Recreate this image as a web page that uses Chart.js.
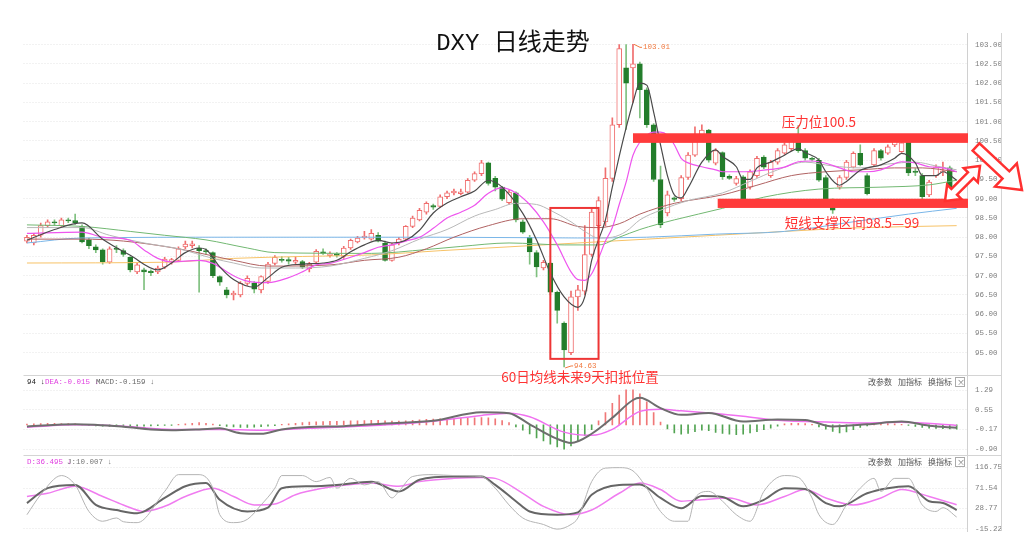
<!DOCTYPE html>
<html>
<head>
<meta charset="utf-8">
<title>DXY 日线走势</title>
<script src="https://cdn.jsdelivr.net/npm/chart.js@4.4.1/dist/chart.umd.min.js"></script>
<style>
  html, body { margin: 0; padding: 0; background: #fff; }
</style>
</head>
<body>
<canvas id="chart" width="1024" height="545"></canvas>
<script>
// daily candles (index 0 = leftmost bar)
const opens = [97.9,97.85,98.05,98.3,98.4,98.3,98.45,98.43,98.28,97.93,97.75,97.67,97.35,97.72,97.65,97.48,97.1,97.15,97.12,97.1,
  97.22,97.38,97.4,97.75,97.78,97.72,97.65,97.6,96.98,96.63,96.5,96.5,96.8,96.8,96.63,96.85,97.32,97.42,97.42,97.35,
  97.37,97.18,97.35,97.62,97.52,97.57,97.5,97.72,97.88,97.98,97.95,98.05,97.85,97.4,97.85,97.95,98.28,98.45,98.65,98.82,
  98.8,99.05,99.15,99.13,99.17,99.48,99.65,99.93,99.53,99.3,98.9,99.15,98.4,98.0,97.6,97.2,97.33,96.57,95.77,95.0,
  96.45,96.6,97.55,98.3,98.4,99.53,100.92,102.4,102.4,102.5,101.83,100.92,99.5,98.63,99.02,99.0,99.55,100.13,100.65,100.78,
  99.92,100.2,99.58,99.4,99.57,99.3,99.6,100.08,99.6,99.95,100.18,100.3,100.48,100.25,100.05,100.0,99.55,98.78,99.3,99.55,
  99.82,100.18,99.6,99.88,100.25,100.18,100.4,100.22,100.48,99.72,99.6,99.1,99.6,99.7,99.8,99.05];
const highs = [98.05,98.1,98.37,98.45,98.45,98.5,98.5,98.6,98.32,97.98,97.8,97.7,97.75,97.78,97.7,97.5,97.32,97.2,97.15,97.25,
  97.48,97.45,97.75,97.9,97.9,97.78,97.7,97.62,97.0,96.7,96.6,96.85,97.0,96.85,97.0,97.35,97.52,97.5,97.48,97.5,
  97.4,97.35,97.68,97.7,97.62,97.6,97.76,97.95,98.02,98.15,98.2,98.12,97.9,97.85,98.0,98.3,98.55,98.75,98.92,98.86,
  99.1,99.2,99.25,99.25,99.52,99.7,100.0,99.95,99.58,99.32,99.22,99.18,98.45,98.05,97.65,97.4,97.35,96.6,95.8,96.6,
  96.75,98.3,98.75,99.05,99.8,101.1,103.0,103.0,103.01,102.55,101.88,100.95,99.85,99.2,99.05,99.6,100.2,100.87,100.92,100.8,
  100.3,100.22,99.62,99.58,99.6,99.75,100.1,100.12,100.0,100.3,100.45,100.55,100.9,100.3,100.08,100.05,99.6,99.0,99.6,100.0,
  100.22,100.4,99.65,100.3,100.28,100.4,100.55,100.5,100.5,99.78,99.65,99.48,99.88,99.95,99.85,99.3];
const lows = [97.85,97.8,98.0,98.25,98.3,98.28,98.38,98.33,97.85,97.7,97.6,97.3,97.32,97.6,97.5,97.1,97.05,96.64,97.0,97.05,
  97.18,97.3,97.38,97.7,97.72,96.57,97.55,96.95,96.75,96.42,96.37,96.45,96.75,96.55,96.55,96.8,97.28,97.35,97.3,97.3,
  97.18,97.1,97.32,97.55,97.48,97.48,97.45,97.68,97.85,97.95,97.92,97.88,97.38,97.38,97.8,97.92,98.25,98.42,98.6,98.72,
  98.78,99.0,99.1,99.1,99.15,99.45,99.6,99.35,99.2,98.95,98.85,98.4,98.1,97.3,96.97,97.15,96.5,95.77,94.63,94.95,
  96.1,96.5,97.5,98.2,98.3,99.45,100.85,100.8,101.5,101.1,100.85,99.45,98.25,98.55,98.93,98.95,99.5,100.1,100.6,99.95,
  99.88,99.5,99.5,99.35,98.98,99.25,99.55,99.78,99.55,99.9,100.15,100.25,100.2,100.0,99.98,99.45,98.95,98.62,99.25,99.5,
  99.8,99.85,99.1,99.85,100.0,100.15,100.35,100.2,99.6,99.6,99.0,99.05,99.55,99.6,99.0,99.0];
const closes = [98.0,98.05,98.3,98.4,98.37,98.45,98.42,98.38,97.88,97.78,97.67,97.36,97.7,97.68,97.55,97.15,97.28,97.1,97.08,97.2,
  97.43,97.42,97.7,97.82,97.83,97.65,97.62,97.0,96.83,96.5,96.55,96.8,96.93,96.65,96.98,97.3,97.48,97.4,97.38,97.4,
  97.22,97.3,97.63,97.58,97.57,97.53,97.72,97.92,97.98,98.03,98.1,97.9,97.4,97.8,97.95,98.28,98.5,98.7,98.88,98.78,
  99.05,99.15,99.2,99.18,99.48,99.65,99.93,99.4,99.3,98.99,99.17,98.45,98.13,97.62,97.23,97.35,96.57,96.1,95.07,96.45,
  96.63,97.55,98.65,98.95,99.53,100.92,102.9,102.0,102.5,101.83,100.92,99.5,98.32,99.1,98.98,99.55,100.13,100.65,100.78,100.0,
  100.25,99.57,99.53,99.52,99.0,99.7,100.05,99.82,99.95,100.25,100.4,100.5,100.25,100.05,100.02,99.48,99.0,98.7,99.55,99.95,
  100.18,99.88,99.13,100.25,100.05,100.35,100.5,100.45,99.67,99.68,99.05,99.43,99.83,99.72,99.05,99.23];

// moving averages, [bar index, price] read at the visible turning points
const ma5 = [[0,97.92],[4,98.2],[8,98.37],[11,97.95],[15,97.53],[19,97.15],[21,97.33],[23,97.6],[25,97.72],[26,97.68],[28,97.23],
  [30,96.9],[33,96.7],[35,96.95],[37,97.22],[40,97.3],[43,97.33],[45,97.4],[47,97.62],[49,97.8],[51,97.92],[53,97.85],[55,97.92],
  [57,98.18],[59,98.63],[61,98.89],[63,99.05],[65,99.2],[67,99.48],[69,99.3],[72,98.62],[74,97.93],[76,97.07],[78,96.45],[80,96.18],
  [81,96.45],[82,97.4],[84,98.45],[85,99.3],[86,100.1],[87,100.84],[88,101.5],[89,102.0],[90,101.95],[91,101.25],[92,100.4],[93,99.6],
  [94,99.1],[95,99.02],[96,99.28],[98,99.95],[100,100.27],[101,100.1],[103,99.83],[104,99.5],[105,99.5],[106,99.8],[108,99.95],
  [110,100.13],[112,100.3],[113,100.2],[115,100.0],[116,99.7],[118,99.35],[119,99.45],[121,99.74],[122,99.8],[124,99.88],[126,100.05],
  [127,100.18],[129,99.93],[130,99.6],[132,99.6],[133,99.7],[135,99.48]];
const ma10 = [[0,98.1],[8,98.13],[11,98.0],[15,97.92],[17,97.67],[19,97.45],[21,97.36],[25,97.4],[27,97.32],[30,97.0],[32,96.86],
  [35,96.82],[38,96.95],[40,97.1],[42,97.28],[44,97.32],[47,97.48],[49,97.6],[51,97.74],[53,97.8],[55,97.9],[57,98.0],[59,98.23],
  [61,98.5],[63,98.65],[65,98.83],[67,99.14],[69,99.28],[71,99.15],[73,98.85],[75,98.4],[77,97.8],[79,97.1],[80,96.9],[81,96.88],
  [82,97.05],[83,97.45],[84,97.9],[85,98.25],[86,98.85],[87,99.43],[88,100.13],[89,100.47],[90,100.65],[91,100.73],[92,100.73],
  [93,100.65],[94,100.4],[95,100.05],[96,99.93],[98,99.83],[100,99.75],[101,99.7],[104,99.7],[106,99.72],[108,99.76],[110,99.82],
  [112,99.96],[114,99.98],[116,99.92],[118,99.8],[120,99.7],[122,99.7],[124,99.75],[125,99.82],[127,99.96],[129,99.93],[131,99.83],
  [133,99.8],[135,99.7]];
const ma30 = [[0,98.25],[8,98.25],[12,98.05],[17,97.85],[22,97.7],[27,97.45],[30,97.33],[34,97.2],[39,97.2],[44,97.25],[49,97.45],
  [53,97.65],[57,97.95],[61,98.2],[65,98.55],[68,98.72],[71,98.88],[74,98.85],[76,98.7],[79,98.4],[81,98.15],[83,97.98],[85,98.0],
  [87,98.15],[89,98.45],[92,98.7],[96,98.95],[101,99.15],[105,99.45],[109,99.75],[113,99.95],[117,99.85],[121,99.8],[125,99.9],
  [129,99.95],[132,99.85],[135,99.75]];
const ma40 = [[0,97.95],[8,97.95],[14,97.9],[22,97.7],[30,97.4],[35,97.25],[44,97.28],[49,97.4],[54,97.48],[58,97.7],[62,98.0],
  [67,98.3],[72,98.48],[76,98.48],[80,98.28],[83,98.25],[86,98.35],[89,98.6],[94,98.88],[101,99.1],[106,99.35],[111,99.6],
  [116,99.7],[121,99.75],[126,99.8],[130,99.8],[135,99.7]];
const ma60 = [[0,98.32],[8,98.28],[15,98.15],[20,98.05],[26,97.93],[32,97.72],[36,97.6],[50,97.58],[58,97.68],[63,97.76],[70,97.85],
  [78,97.8],[83,97.8],[86,98.0],[89,98.2],[94,98.45],[101,98.75],[107,99.04],[115,99.25],[124,99.3],[131,99.36],[135,99.48]];
const ma120 = [[0,97.85],[8,97.98],[30,98.0],[60,98.0],[80,97.98],[90,98.0],[100,98.08],[110,98.15],[120,98.4],[128,98.6],[135,98.75]];
const ma250 = [[0,97.33],[20,97.35],[30,97.45],[40,97.5],[50,97.54],[60,97.65],[70,97.75],[80,97.85],[90,97.95],[100,98.05],
  [110,98.15],[120,98.24],[135,98.3]];

// MACD panel
const macdHist = [0.03,0.04,0.05,0.06,0.06,0.05,0.05,0.04,0.02,
  -0.02,-0.04,-0.05,-0.06,-0.05,-0.06,-0.07,-0.06,-0.05,-0.04,-0.03,-0.02,-0.02,
  0.02,0.04,0.06,0.08,0.06,0.03,
  -0.03,-0.06,-0.08,-0.1,-0.1,-0.09,-0.07,-0.05,-0.03,
  0.02,0.04,0.06,0.08,0.1,0.11,0.12,0.13,0.13,0.14,0.15,0.15,0.16,0.17,
  0.17,0.15,0.14,0.14,0.15,0.17,0.19,0.2,0.21,0.22,0.22,0.23,0.24,0.25,0.26,0.27,0.26,0.22,0.16,0.08,
  -0.08,-0.2,-0.34,-0.48,-0.6,-0.72,-0.82,-0.9,-0.78,-0.6,-0.4,-0.18,
  0.15,0.45,0.8,1.1,1.3,1.3,1.15,0.85,
  0.45,0.1,-0.15,-0.3,
  -0.35,-0.32,-0.25,-0.2,-0.22,-0.28,-0.32,-0.35,-0.36,-0.35,-0.3,-0.25,-0.18,-0.12,-0.05,
  0.04,0.06,0.06,0.05,0.02,
  -0.08,-0.16,-0.24,-0.3,-0.26,-0.18,-0.1,
  -0.04,0.02,0.04,0.05,0.04,0.02,-0.02,
  -0.06,-0.1,-0.12,-0.13,-0.14,-0.15,-0.16];
const dif = [[0,-0.06],[7,0.02],[14,-0.07],[18,-0.17],[21,-0.2],[25,-0.17],[28,-0.13],[31,-0.31],[34,-0.33],[37,-0.17],[41,-0.08],
  [46,-0.05],[52,0.05],[59,0.15],[66,0.47],[70,0.43],[73,0.02],[77,-0.52],[79,-0.67],[82,-0.33],[85,0.26],[88,0.92],[89,1.0],
  [92,0.62],[95,0.37],[99,0.44],[104,0.12],[109,0.2],[113,0.18],[117,-0.06],[122,0.02],[127,0.12],[131,-0.03],[135,-0.11]];
const dea = [[0,-0.09],[7,0.0],[14,-0.05],[21,-0.17],[28,-0.17],[34,-0.2],[41,-0.13],[53,0.01],[59,0.13],[66,0.35],[70,0.43],
  [73,0.3],[78,-0.27],[82,-0.39],[85,-0.17],[89,0.5],[92,0.58],[95,0.52],[99,0.44],[104,0.32],[109,0.17],[117,0.1],[122,0.07],
  [127,0.1],[135,-0.02]];

// KDJ panel
const kLine = [[0,40],[3,72],[7,79],[10,36],[13,25],[16,18],[20,51],[23,76],[26,83],[28,47],[32,22],[35,30],[37,72],[41,76],[45,79],
  [50,86],[54,65],[57,90],[62,97],[66,97],[68,79],[71,44],[73,22],[77,15],[80,20],[82,58],[86,79],[89,80],[92,51],[95,29],[98,55],
  [101,53],[104,33],[107,47],[110,72],[113,70],[116,40],[118,33],[122,61],[125,72],[128,76],[131,44],[133,40],[135,25]];
const dLine = [[0,54],[3,61],[7,76],[11,54],[14,36],[17,22],[20,33],[23,54],[27,72],[30,54],[33,36],[36,38],[39,58],[43,72],[46,78],
  [50,83],[54,76],[57,86],[62,93],[66,95],[68,93],[72,61],[75,33],[79,15],[82,25],[86,61],[89,83],[92,69],[95,44],[98,47],[102,51],
  [106,36],[110,54],[113,69],[116,51],[120,36],[124,51],[127,69],[131,54],[135,36.5]];
const jLine = [[0,15],[2,58],[5,99],[7,79],[9,22],[11,1],[13,8],[14,0],[16,-2],[20,65],[22,101],[25,101],[27,72],[28,15],[30,-2],
  [32,5],[34,36],[36,72],[37,99],[40,99],[42,86],[44,95],[45,72],[47,93],[49,79],[51,86],[53,51],[54,65],[56,97],[59,101],[62,99],
  [66,97],[68,72],[70,36],[72,8],[75,-6],[77,-16],[79,-6],[80,8],[82,86],[84,115],[86,116],[88,109],[90,72],[92,22],[94,1],[96,1],
  [97,51],[99,65],[101,44],[103,15],[105,1],[107,65],[110,99],[112,95],[114,51],[115,15],[117,-6],[119,36],[121,72],[123,93],
  [124,65],[126,93],[128,93],[130,36],[132,22],[133,30],[135,10]];

// axis ticks
const priceTicks = [95,95.5,96,96.5,97,97.5,98,98.5,99,99.5,100,100.5,101,101.5,102,102.5,103];
const macdTicks = [1.29,0.55,-0.17,-0.90];
const kdjTicks = [116.75,71.54,28.77,-15.22];

const sessions = opens.map((_, i) => i).concat(opens.length); // one empty slot on the right

const isUp = closes.map((c, i) => c >= opens[i]);
const RED = '#f06e6e', GREEN = '#237d2b';
const pts = arr => arr.map(([x, y]) => ({ x, y }));
const axisFont = { family: 'Liberation Mono', size: 7.5 };

function line(data, color, axis, width, order) {
  return {
    type: 'line', data: pts(data), yAxisID: axis, borderColor: color, borderWidth: width || 1,
    pointRadius: 0, cubicInterpolationMode: 'monotone', order: order || 1
  };
}

function panel(ticks, fmt, min, max, weight) {
  return {
    position: 'right', stack: 'panels', stackWeight: weight, min, max,
    afterBuildTicks: s => { s.ticks = ticks.map(v => ({ value: v })); },
    afterFit: s => { s.width = 34; },
    ticks: { callback: v => fmt(v), font: axisFont, color: '#7d7d7d', padding: 8, autoSkip: false },
    grid: { color: '#e4e4e4', drawTicks: false },
    border: { color: '#d0d0d0', dash: [1, 2] }
  };
}

function hollowArrow(ctx, x1, y1, x2, y2, shaft, head, headLen, both) {
  const len = Math.hypot(x2 - x1, y2 - y1);
  const ux = (x2 - x1) / len, uy = (y2 - y1) / len, nx = -uy, ny = ux;
  const at = (d, w) => [x1 + ux * d + nx * w, y1 + uy * d + ny * w];
  const p = [];
  if (both) p.push(at(0, 0), at(headLen, head / 2), at(headLen, shaft / 2));
  else p.push(at(0, shaft / 2));
  p.push(at(len - headLen, shaft / 2), at(len - headLen, head / 2), at(len, 0),
    at(len - headLen, -head / 2), at(len - headLen, -shaft / 2));
  if (both) p.push(at(headLen, -shaft / 2), at(headLen, -head / 2));
  else p.push(at(0, -shaft / 2));
  ctx.beginPath();
  p.forEach(([x, y], i) => i ? ctx.lineTo(x, y) : ctx.moveTo(x, y));
  ctx.closePath();
  ctx.fillStyle = '#fff';
  ctx.fill();
  ctx.lineWidth = 2.5;
  ctx.strokeStyle = '#ff3030';
  ctx.stroke();
}

const notes = {
  id: 'notes',
  afterDraw(chart) {
    const { ctx, chartArea: area, scales } = chart;
    const px = i => scales.x.getPixelForValue(i);
    const py = v => scales.y.getPixelForValue(v);
    ctx.save();

    // panel frame
    ctx.strokeStyle = '#d4d4d4';
    ctx.lineWidth = 1;
    ctx.beginPath();
    ctx.moveTo(1001.5, area.top);
    ctx.lineTo(1001.5, area.bottom);
    [scales.yMacd.top, scales.yKdj.top].forEach(t => {
      ctx.moveTo(area.left, Math.round(t) + 0.5);
      ctx.lineTo(1001.5, Math.round(t) + 0.5);
    });
    ctx.stroke();

    ctx.fillStyle = '#111';
    ctx.font = '24px "Liberation Mono", "Noto Sans CJK SC"';
    ctx.textAlign = 'center';
    ctx.textBaseline = 'middle';
    ctx.fillText('DXY 日线走势', 513, 44);

    // high / low marks
    const hi = highs.indexOf(Math.max(...highs));
    const lo = lows.indexOf(Math.min(...lows));
    ctx.strokeStyle = '#f07a40';
    ctx.fillStyle = '#f07a40';
    ctx.font = '7.5px "Liberation Mono"';
    ctx.textAlign = 'left';
    ctx.beginPath();
    ctx.moveTo(px(hi) + 1, py(highs[hi]));
    ctx.lineTo(px(hi) + 7, py(highs[hi]) + 3);
    ctx.lineTo(px(hi) + 9, py(highs[hi]) + 3);
    ctx.moveTo(px(lo) + 1, py(lows[lo]) + 1);
    ctx.lineTo(px(lo) + 7, py(lows[lo]) - 1);
    ctx.lineTo(px(lo) + 9, py(lows[lo]) - 1);
    ctx.stroke();
    ctx.fillText(highs[hi].toFixed(2), px(hi) + 10, py(highs[hi]) + 3);
    ctx.fillText(lows[lo].toFixed(2), px(lo) + 10, py(lows[lo]) - 1);

    // resistance / support bands
    ctx.fillStyle = '#ff3b3b';
    ctx.fillRect(px(88), py(100.7), area.right + 1 - px(88), py(100.45) - py(100.7));
    ctx.fillRect(px(100.3), py(99.0), area.right + 1 - px(100.3), py(98.76) - py(99.0));

    ctx.strokeStyle = '#ee3535';
    ctx.lineWidth = 2;
    ctx.strokeRect(px(76), py(98.76), px(83) - px(76), py(94.84) - py(98.76));

    ctx.fillStyle = '#ff3333';
    ctx.font = '13.5px "Noto Sans CJK SC"';
    ctx.textAlign = 'center';
    ctx.fillText('压力位100.5', px(115), py(101.0));
    ctx.fillText('短线支撑区间98.5—99', px(119.8), py(98.37));
    ctx.fillText('60日均线未来9天扣抵位置', px(80.3), scales.y.bottom + 2);

    hollowArrow(ctx, 945, 201, 980, 166, 8, 20, 13, true);
    hollowArrow(ctx, 976, 147, 1022, 190, 10, 32, 22, false);

    // indicator headers
    const header = (top, parts) => {
      ctx.font = '7.5px "Liberation Mono", "DejaVu Sans"';
      ctx.textAlign = 'left';
      parts.forEach(([t, c, x]) => { ctx.fillStyle = c; ctx.fillText(t, x, top + 7); });
      ctx.font = '8px "Noto Sans CJK SC"';
      ctx.fillStyle = '#555';
      ['改参数', '加指标', '换指标'].forEach((t, i) => ctx.fillText(t, 868 + i * 30, top + 7));
      ctx.strokeStyle = '#aaa';
      ctx.lineWidth = 1;
      ctx.strokeRect(955.5, top + 2.5, 9, 9);
      ctx.fillStyle = '#777';
      ctx.fillText('×', 957, top + 7);
    };
    header(scales.yMacd.top, [['94 ↓', '#222', 27], ['DEA:-0.015 ↓', '#e040e0', 45], ['MACD:-0.159 ↓', '#666', 96]]);
    header(scales.yKdj.top, [['D:36.495 ↓', '#e040e0', 27], ['J:10.007 ↓', '#777', 67]]);

    ctx.restore();
  }
};

new Chart(document.getElementById('chart'), {
  type: 'bar',
  data: {
    labels: sessions,
    datasets: [
      line(ma5, '#4a4a4a', 'y', 1.2), line(ma10, '#ee55ee', 'y', 1.2), line(ma30, '#b8b8b8', 'y'),
      line(ma40, '#b06262', 'y'), line(ma60, '#72b872', 'y'), line(ma120, '#7ab6e8', 'y'), line(ma250, '#f7c266', 'y'),
      {
        label: 'body', data: opens.map((o, i) => [o, closes[i]]), yAxisID: 'y', grouped: false, order: 2,
        barThickness: 5, minBarLength: 1, borderSkipped: false, borderWidth: 1,
        backgroundColor: isUp.map(u => u ? '#fff' : GREEN), borderColor: isUp.map(u => u ? RED : GREEN)
      },
      {
        label: 'wick', data: lows.map((l, i) => [l, highs[i]]), yAxisID: 'y', grouped: false, order: 3,
        barThickness: 1, backgroundColor: isUp.map(u => u ? RED : '#7fc07f')
      },
      {
        label: 'macd', data: macdHist, yAxisID: 'yMacd', grouped: false, order: 3, barThickness: 1,
        backgroundColor: macdHist.map(v => v >= 0 ? '#f07878' : '#52a452')
      },
      line(dif, '#6e6e6e', 'yMacd', 2), line(dea, '#f070f0', 'yMacd', 1.5),
      line(jLine, '#b4b4b4', 'yKdj', 1), line(kLine, '#666', 'yKdj', 2), line(dLine, '#f07cf0', 'yKdj', 1.5)
    ]
  },
  options: {
    responsive: false,
    animation: false,
    devicePixelRatio: 1,
    layout: { padding: { left: 23.5, right: 23, top: 33, bottom: 14 } },
    plugins: { legend: { display: false }, tooltip: { enabled: false } },
    scales: {
      x: { type: 'category', display: false, offset: true },
      y: panel(priceTicks, v => v.toFixed(2), 94.421, 103.304, 342),
      yMacd: panel(macdTicks, v => v.toFixed(2), -1.117, 1.846, 80),
      yKdj: panel(kdjTicks, v => v.toFixed(2), -19.95, 143.15, 76)
    }
  },
  plugins: [notes]
});
</script>
</body>
</html>
